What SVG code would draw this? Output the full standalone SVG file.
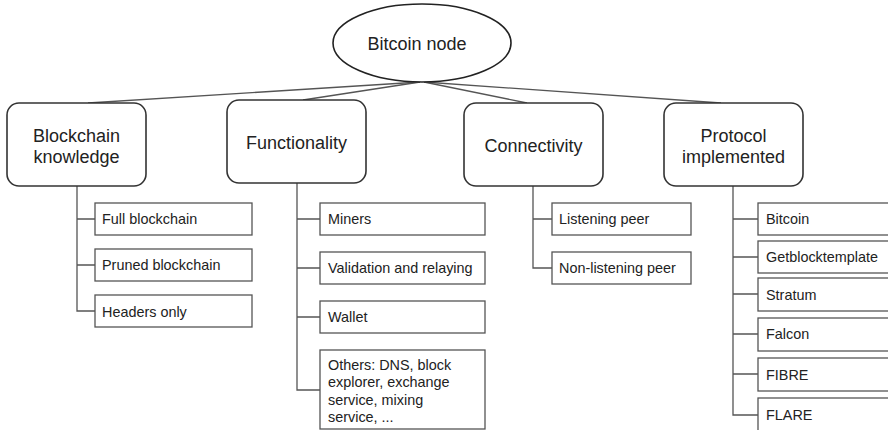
<svg xmlns="http://www.w3.org/2000/svg" width="888" height="430" viewBox="0 0 888 430">
<style>
.bg{fill:#ffffff}
.root{fill:#ffffff;stroke:#222;stroke-width:1.6}
.main{fill:#ffffff;stroke:#333;stroke-width:1.6}
.child{fill:#ffffff;stroke:#555;stroke-width:1.3}
.edge{fill:none;stroke:#555;stroke-width:1.3}
.t1{font-family:"Liberation Sans",Arial,sans-serif;font-size:18px;fill:#222;text-anchor:middle}
.t2{font-family:"Liberation Sans",Arial,sans-serif;font-size:14.4px;fill:#222}
</style>
<rect class="bg" x="0" y="0" width="888" height="430"/>
<g id="connectors">
<line class="edge" x1="420" y1="82" x2="88" y2="103"/>
<line class="edge" x1="420" y1="82" x2="303" y2="100"/>
<line class="edge" x1="424" y1="82" x2="527" y2="103"/>
<line class="edge" x1="424" y1="82" x2="721" y2="103"/>
<path class="edge" d="M77 186 V311 H95 M77 219 H95 M77 265 H95"/>
<path class="edge" d="M297 183 V390 H320 M297 219 H320 M297 268 H320 M297 317 H320"/>
<path class="edge" d="M533 186 V268 H552 M533 219 H552"/>
<path class="edge" d="M733 186 V415 H758 M733 219 H758 M733 257 H758 M733 294 H758 M733 334 H758 M733 374 H758"/>
</g>
<g id="root">
<ellipse class="root" cx="422" cy="43" rx="89" ry="39"/>
<text class="t1" x="417" y="50">Bitcoin node</text>
</g>
<g id="blockchain">
<rect class="main" x="7" y="103" width="139" height="83" rx="12"/>
<text class="t1" x="76.5" y="142">Blockchain</text>
<text class="t1" x="76.5" y="163">knowledge</text>
</g>
<g id="functionality">
<rect class="main" x="227" y="100" width="139" height="83" rx="12"/>
<text class="t1" x="296.5" y="149">Functionality</text>
</g>
<g id="connectivity">
<rect class="main" x="464" y="103" width="139" height="83" rx="12"/>
<text class="t1" x="533.5" y="152">Connectivity</text>
</g>
<g id="protocol">
<rect class="main" x="664" y="103" width="139" height="83" rx="12"/>
<text class="t1" x="733.5" y="142">Protocol</text>
<text class="t1" x="733.5" y="163">implemented</text>
</g>
<g id="full-blockchain"><rect class="child" x="95" y="203" width="157" height="32"/><text class="t2" x="102" y="224">Full blockchain</text></g>
<g id="pruned-blockchain"><rect class="child" x="95" y="249" width="157" height="32"/><text class="t2" x="102" y="270">Pruned blockchain</text></g>
<g id="headers-only"><rect class="child" x="95" y="295" width="157" height="32"/><text class="t2" x="102" y="317">Headers only</text></g>
<g id="miners"><rect class="child" x="320" y="203" width="165" height="32"/><text class="t2" x="328" y="224">Miners</text></g>
<g id="validation"><rect class="child" x="320" y="252" width="165" height="32"/><text class="t2" x="328" y="273">Validation and relaying</text></g>
<g id="wallet"><rect class="child" x="320" y="301" width="165" height="32"/><text class="t2" x="328" y="322">Wallet</text></g>
<g id="others"><rect class="child" x="320" y="350" width="165" height="79"/>
<text class="t2" x="328" y="370">Others: DNS, block</text>
<text class="t2" x="328" y="387">explorer, exchange</text>
<text class="t2" x="328" y="405">service, mixing</text>
<text class="t2" x="328" y="422">service, ...</text></g>
<g id="listening"><rect class="child" x="552" y="203" width="139" height="32"/><text class="t2" x="559" y="224">Listening peer</text></g>
<g id="non-listening"><rect class="child" x="552" y="252" width="139" height="32"/><text class="t2" x="559" y="273">Non-listening peer</text></g>
<g id="p-bitcoin"><rect class="child" x="758" y="203" width="150" height="32"/><text class="t2" x="766" y="224">Bitcoin</text></g>
<g id="p-getblocktemplate"><rect class="child" x="758" y="241" width="150" height="32"/><text class="t2" x="766" y="262">Getblocktemplate</text></g>
<g id="p-stratum"><rect class="child" x="758" y="278" width="150" height="33"/><text class="t2" x="766" y="300">Stratum</text></g>
<g id="p-falcon"><rect class="child" x="758" y="318" width="150" height="33"/><text class="t2" x="766" y="339">Falcon</text></g>
<g id="p-fibre"><rect class="child" x="758" y="358" width="150" height="33"/><text class="t2" x="766" y="380">FIBRE</text></g>
<g id="p-flare"><rect class="child" x="758" y="398" width="150" height="40"/><text class="t2" x="766" y="420">FLARE</text></g>
</svg>
